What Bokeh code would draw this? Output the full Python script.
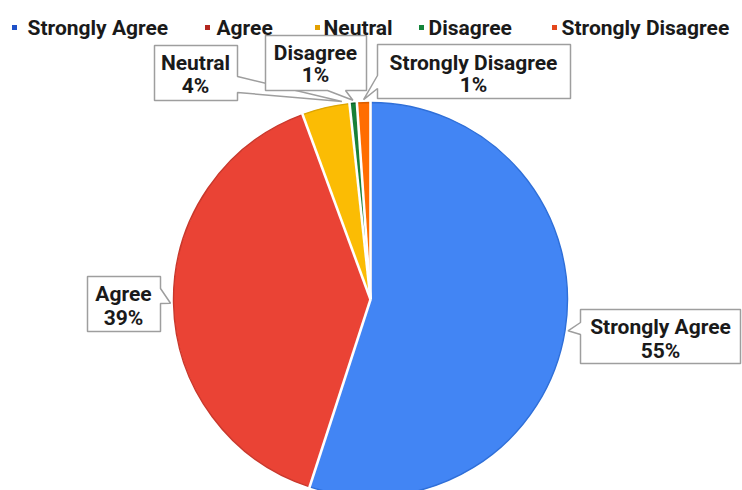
import numpy as np
from bokeh.plotting import figure
from bokeh.models import Range1d, ColumnDataSource
from bokeh.core.properties import value
from bokeh.embed import file_html
from bokeh.resources import INLINE

# ---- data ----
categories = ["Strongly Agree", "Agree", "Neutral", "Disagree", "Strongly Disagree"]
values = [55.0, 39.4, 3.9, 0.6, 1.1]
colors = ["#4285F4", "#EA4335", "#FBBC04", "#188038", "#FF6D01"]
edge_colors = ["#2f6fd8", "#c9382c", "#dca503", "#0f5f28", "#d95c00"]
legend_colors = ["#1f51c8", "#b3261e", "#e3a000", "#13843a", "#e4471c"]

W, H = 742, 490
FONT = value("Roboto")
FSIZE = "21px"
TXT = "#1a1a1a"

def Y(py):
    return H - py

p = figure(width=W, height=H, x_range=Range1d(0, W), y_range=Range1d(0, H),
           output_backend="svg", toolbar_location=None, min_border=0,
           x_axis_location=None, y_axis_location=None)
p.grid.visible = False
p.outline_line_color = None
p.background_fill_color = "white"
p.border_fill_color = "white"

# ---- pie ----
cx, cy, R = 370, Y(299), 197
vals = np.array(values, dtype=float)
frac = vals / vals.sum()
cum_after = np.cumsum(frac)
cum_before = cum_after - frac
start = np.pi / 2 - 2 * np.pi * cum_before
end = np.pi / 2 - 2 * np.pi * cum_after

src = ColumnDataSource(dict(start=start, end=end, fill=colors, edge=edge_colors))
p.wedge(x=cx, y=cy, radius=R, start_angle="start", end_angle="end", direction="clock",
        fill_color="fill", line_color="edge", line_width=1.4, source=src)

# white separators between slices
bang = start
p.segment(x0=[cx] * len(bang), y0=[cy] * len(bang),
          x1=list(cx + (R + 3) * np.cos(bang)), y1=list(cy + (R + 3) * np.sin(bang)),
          line_color="white", line_width=2.6)

# ---- callout labels (layout in pixel coords) ----
callouts = {
    "Neutral":           dict(box=(154, 45, 237, 100), side="right", a=(76, 92), f=0.85, tx=195, ty=(62, 85)),
    "Disagree":          dict(box=(265, 35, 366, 90), side="bottom", a=(327, 345), f=0.5, tx=315, ty=(52, 74)),
    "Strongly Disagree": dict(box=(377, 44, 570, 98), side="left", a=(75, 88), f=0.5, tx=473, ty=(62, 84)),
    "Agree":             dict(box=(87, 276, 160, 331), side="right", a=(288, 303), f=0.5, tx=123, ty=(293, 317)),
    "Strongly Agree":    dict(box=(580, 309, 740, 363), side="left", a=(322, 334), f=0.5, tx=660, ty=(326, 350)),
}
order = ["Neutral", "Disagree", "Strongly Disagree", "Agree", "Strongly Agree"]

xs_list, ys_list = [], []
tx, ty, tt = [], [], []
for name in order:
    i = categories.index(name)
    c = callouts[name]
    ang = start[i] + (end[i] - start[i]) * c["f"]
    tipx = cx + (R + 3) * np.cos(ang)
    tipy = cy + (R + 3) * np.sin(ang)
    x0, y0, x1, y1 = c["box"]
    a1, a2 = c["a"]
    if c["side"] == "right":
        pts = [(x0, Y(y0)), (x1, Y(y0)), (x1, Y(a1)), (tipx, tipy), (x1, Y(a2)), (x1, Y(y1)), (x0, Y(y1))]
    elif c["side"] == "left":
        pts = [(x0, Y(y0)), (x1, Y(y0)), (x1, Y(y1)), (x0, Y(y1)), (x0, Y(a2)), (tipx, tipy), (x0, Y(a1))]
    else:  # bottom
        pts = [(x0, Y(y0)), (x1, Y(y0)), (x1, Y(y1)), (a2, Y(y1)), (tipx, tipy), (a1, Y(y1)), (x0, Y(y1))]
    xs_list.append([q[0] for q in pts])
    ys_list.append([q[1] for q in pts])
    pct = f"{int(round(values[i]))}%"
    tx += [c["tx"], c["tx"]]
    ty += [Y(c["ty"][0]), Y(c["ty"][1])]
    tt += [name, pct]

for xs, ys in zip(xs_list, ys_list):
    p.patch(x=xs, y=ys, fill_color="white", line_color="#9e9e9e", line_width=1.5)

p.text(x=tx, y=ty, text=tt, text_font=FONT, text_font_style="bold", text_font_size=FSIZE,
       text_align="center", text_baseline="middle", text_color=TXT)

# ---- legend ----
leg_sq_x = [14, 207, 317, 421, 554]
leg_tx_x = [27, 216, 323, 428, 561]
ly = Y(27)
p.rect(x=leg_sq_x, y=[ly] * 5, width=5, height=5, fill_color=legend_colors, line_color=None)
p.text(x=leg_tx_x, y=[ly] * 5, text=categories, text_font=FONT, text_font_style="bold",
       text_font_size=FSIZE, text_align="left", text_baseline="middle", text_color=TXT)

open("out.html", "w").write(file_html(p, INLINE))
